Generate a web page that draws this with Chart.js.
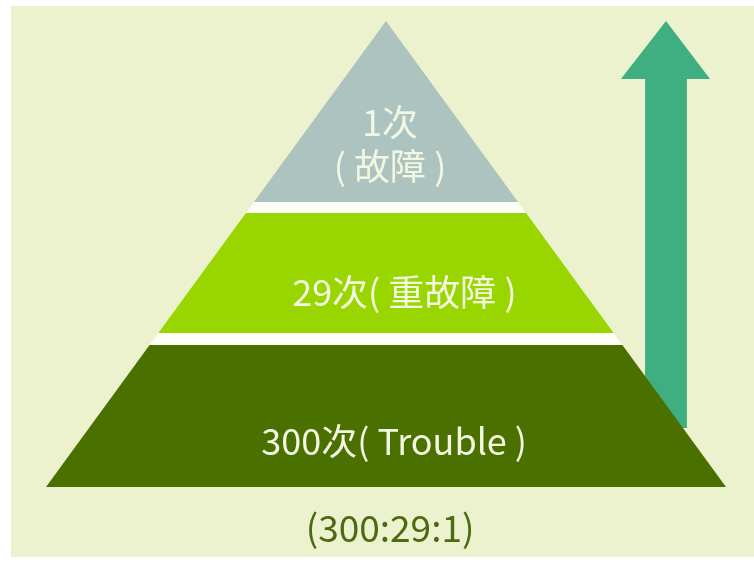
<!DOCTYPE html>
<html>
<head>
<meta charset="utf-8">
<script src="https://cdn.jsdelivr.net/npm/chart.js@4.4.1/dist/chart.umd.min.js"></script>
<style>
  body { margin: 0; background: #ffffff; }
  canvas { display: block; }
</style>
</head>
<body>
<canvas id="graficoPiramide" width="754" height="563"></canvas>
<script>
// Niveles de la pirámide (de arriba hacia abajo)
const levels = ["故障", "重故障", "Trouble"];
const counts = [1, 29, 300];
const levelColors = ["#adc3c0", "#99d600", "#4a7100"];

// Bandas en unidades del eje y (0 = base, 1 = vértice)
const bandTop = [1, 0.588, 0.3047];
const bandBottom = [0.6116, 0.3305, 0];
// Posición de las etiquetas en unidades de los ejes
const labelX = [0.012, 0.054, 0.024];
const labelY = [[0.783, 0.689], [0.418], [0.099]];

// Flecha (unidades de los ejes)
const arrow = { shaftLeft: 0.762, shaftRight: 0.885, headLeft: 0.691, headRight: 0.953, tipY: 1.0, headBaseY: 0.8755, bottomY: 0.1266 };

const fontFamily = "'Noto Sans CJK SC', 'Noto Sans', sans-serif";

function etiquetas(i) {
    if (i === 0) return [counts[i] + "次", "( " + levels[i] + " )"];
    return [counts[i] + "次( " + levels[i] + " )"];
}

// Ancho medio de la pirámide para una altura dada
function halfWidth(y) {
    return 1 - y;
}

const piramidePlugin = {
    id: "piramide",
    beforeDraw(chart) {
        const ctx = chart.ctx;
        ctx.save();
        ctx.fillStyle = "#ffffff";
        ctx.fillRect(0, 0, chart.width, chart.height);
        ctx.fillStyle = "#ecf2cd";
        ctx.fillRect(11, 6, chart.width - 11, 551);
        ctx.restore();
    },
    afterDatasetsDraw(chart) {
        const ctx = chart.ctx;
        const xs = chart.scales.x;
        const ys = chart.scales.y;
        const px = v => xs.getPixelForValue(v);
        const py = v => ys.getPixelForValue(v);
        ctx.save();

        // Flecha
        ctx.fillStyle = "#3fae80";
        ctx.beginPath();
        ctx.moveTo(px((arrow.shaftLeft + arrow.shaftRight) / 2), py(arrow.tipY));
        ctx.lineTo(px(arrow.headRight), py(arrow.headBaseY));
        ctx.lineTo(px(arrow.shaftRight), py(arrow.headBaseY));
        ctx.lineTo(px(arrow.shaftRight), py(arrow.bottomY));
        ctx.lineTo(px(arrow.shaftLeft), py(arrow.bottomY));
        ctx.lineTo(px(arrow.shaftLeft), py(arrow.headBaseY));
        ctx.lineTo(px(arrow.headLeft), py(arrow.headBaseY));
        ctx.closePath();
        ctx.fill();

        // Bandas
        levels.forEach((lvl, i) => {
            const t = bandTop[i], b = bandBottom[i];
            ctx.fillStyle = levelColors[i];
            ctx.beginPath();
            ctx.moveTo(px(-halfWidth(t)), py(t));
            ctx.lineTo(px(halfWidth(t)), py(t));
            ctx.lineTo(px(halfWidth(b)), py(b));
            ctx.lineTo(px(-halfWidth(b)), py(b));
            ctx.closePath();
            ctx.fill();
        });

        // Separadores blancos
        ctx.fillStyle = "#fdfef6";
        for (let i = 1; i < levels.length; i++) {
            const t = bandBottom[i - 1], b = bandTop[i];
            ctx.beginPath();
            ctx.moveTo(px(-halfWidth(t)), py(t));
            ctx.lineTo(px(halfWidth(t)), py(t));
            ctx.lineTo(px(halfWidth(b)), py(b));
            ctx.lineTo(px(-halfWidth(b)), py(b));
            ctx.closePath();
            ctx.fill();
        }

        // Textos
        ctx.textAlign = "center";
        ctx.textBaseline = "middle";
        ctx.font = "36px " + fontFamily;
        ctx.fillStyle = "#f3f7e2";
        levels.forEach((lvl, i) => {
            etiquetas(i).forEach((txt, j) => {
                ctx.fillText(txt, px(labelX[i]), py(labelY[i][j]));
            });
        });

        // Relación
        ctx.fillStyle = "#4b6a12";
        ctx.font = "37px " + fontFamily;
        ctx.fillText("(" + counts.slice().reverse().join(":") + ")", px(0.012), py(-0.088));
        ctx.restore();
    }
};

new Chart(document.getElementById("graficoPiramide"), {
    type: "scatter",
    data: {
        datasets: [{
            label: "Fallos",
            data: counts.map((c, i) => ({ x: labelX[i], y: labelY[i][0] })),
            pointRadius: 0
        }]
    },
    options: {
        responsive: false,
        devicePixelRatio: 1,
        animation: false,
        layout: { padding: { left: 46, right: 28, top: 21, bottom: 76 } },
        plugins: { legend: { display: false }, tooltip: { enabled: false } },
        scales: {
            x: { type: "linear", min: -1, max: 1, display: false },
            y: { type: "linear", min: 0, max: 1, display: false }
        }
    },
    plugins: [piramidePlugin]
});
</script>
</body>
</html>
